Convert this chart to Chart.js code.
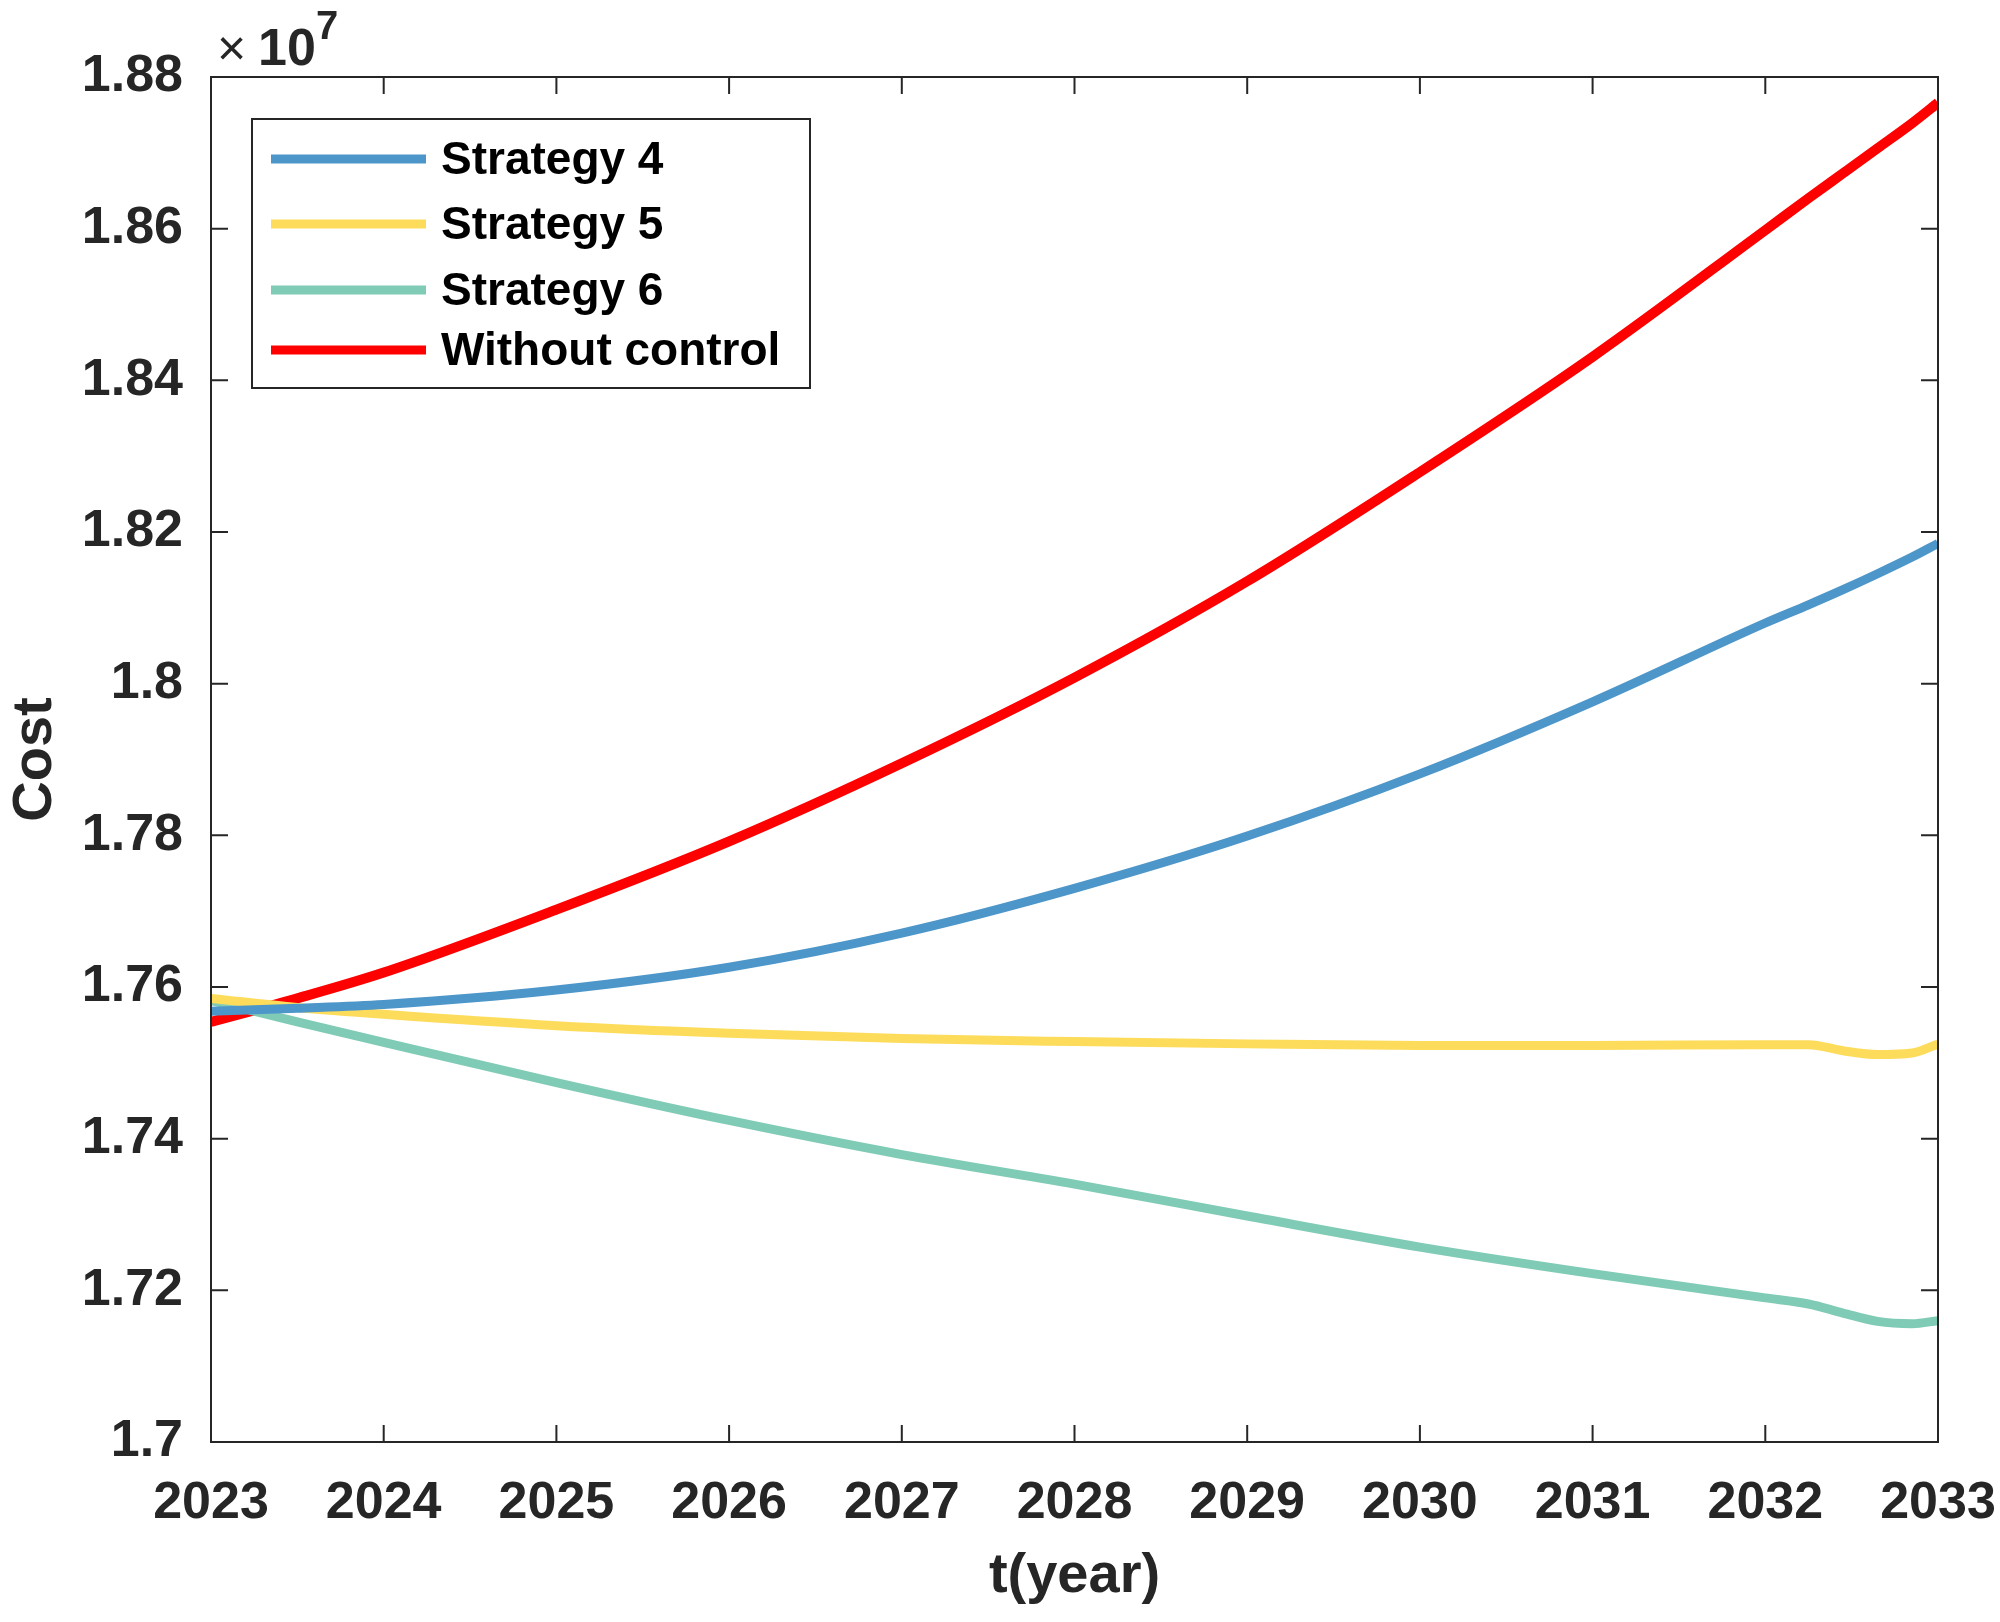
<!DOCTYPE html>
<html>
<head>
<meta charset="utf-8">
<script src="https://cdn.jsdelivr.net/npm/chart.js@4"></script>
<style>
  html, body { margin: 0; padding: 0; background: #fff; }
  #wrap { width: 2000px; height: 1622px; }
</style>
</head>
<body>
<div id="wrap"><canvas id="costChart" width="2000" height="1622"></canvas></div>
<script>
// time axis (years), extra points near the end for the dip
const years = [2023, 2023.5, 2024, 2025, 2026, 2027, 2028, 2029, 2030, 2031, 2032, 2032.25, 2032.45, 2032.65, 2032.85, 2033];

// cost values, x 1e7
const strategy4 = [1.7568, 1.7572, 1.7577, 1.7596, 1.7626, 1.7671, 1.7730, 1.7799, 1.7881, 1.7976, 1.8080, 1.8104, 1.8124, 1.8145, 1.8167, 1.8185];
const strategy5 = [1.7585, 1.7573, 1.7564, 1.7549, 1.7539, 1.7532, 1.7528, 1.7525, 1.7523, 1.7523, 1.7524, 1.7524, 1.7516, 1.7511, 1.7513, 1.7525];
const strategy6 = [1.7582, 1.7554, 1.7527, 1.7474, 1.7424, 1.7379, 1.7340, 1.7298, 1.7257, 1.7222, 1.7190, 1.7182, 1.7170, 1.7159, 1.7156, 1.7160];
const noControl = [1.7554, 1.7585, 1.7619, 1.7702, 1.7792, 1.7895, 1.8008, 1.8135, 1.8279, 1.8431, 1.8598, 1.8640, 1.8673, 1.8706, 1.8739, 1.8766];

const seriesNames = ["Strategy 4", "Strategy 5", "Strategy 6", "Without control"];
const seriesColors = ["#4d96c9", "#fddc5c", "#80cbb5", "#ff0000"];

const yTicks = [1.70, 1.72, 1.74, 1.76, 1.78, 1.80, 1.82, 1.84, 1.86, 1.88];
const xTicks = [2023, 2024, 2025, 2026, 2027, 2028, 2029, 2030, 2031, 2032, 2033];

const textColor = "#262626";
const fontFam = "'Liberation Sans', Arial, sans-serif";

const toPoints = vals => vals.map((v, i) => ({ x: years[i], y: v * 1e7 }));

// box + inward ticks, MATLAB style
const axesBox = {
    id: "axesBox",
    afterDatasetsDraw(chart) {
        const { ctx, chartArea: a, scales } = chart;
        ctx.save();
        ctx.strokeStyle = "#262626";
        ctx.lineWidth = 2;
        ctx.strokeRect(a.left, a.top, a.right - a.left, a.bottom - a.top);
        const len = 17;
        ctx.beginPath();
        xTicks.forEach(t => {
            const px = scales.x.getPixelForValue(t);
            ctx.moveTo(px, a.bottom); ctx.lineTo(px, a.bottom - len);
            ctx.moveTo(px, a.top); ctx.lineTo(px, a.top + len);
        });
        yTicks.forEach(t => {
            const py = scales.y.getPixelForValue(t * 1e7);
            ctx.moveTo(a.left, py); ctx.lineTo(a.left + len, py);
            ctx.moveTo(a.right, py); ctx.lineTo(a.right - len, py);
        });
        ctx.stroke();

        // exponent label
        ctx.fillStyle = textColor;
        ctx.textBaseline = "alphabetic";
        ctx.textAlign = "left";
        ctx.font = "50px " + fontFam;
        ctx.fillText("\u00d7", a.left + 6, a.top - 12);
        ctx.font = "bold 52px " + fontFam;
        ctx.fillText("10", a.left + 47, a.top - 12);
        ctx.font = "bold 40px " + fontFam;
        ctx.fillText("7", a.left + 105, a.top - 38);
        ctx.restore();
    }
};

// legend box inside the plot
const boxLegend = {
    id: "boxLegend",
    afterDraw(chart) {
        const { ctx, chartArea: a } = chart;
        const x0 = a.left + 41, y0 = a.top + 42, w = 558, h = 269;
        ctx.save();
        ctx.fillStyle = "#fff";
        ctx.fillRect(x0, y0, w, h);
        ctx.strokeStyle = "#262626";
        ctx.lineWidth = 2;
        ctx.strokeRect(x0, y0, w, h);
        const rows = [40, 105, 171, 231];
        ctx.font = "bold 46px " + fontFam;
        ctx.textBaseline = "middle";
        chart.data.datasets.forEach((ds, i) => {
            const y = y0 + rows[i];
            ctx.strokeStyle = ds.borderColor;
            ctx.lineWidth = 9;
            ctx.beginPath();
            ctx.moveTo(x0 + 19, y);
            ctx.lineTo(x0 + 174, y);
            ctx.stroke();
            ctx.fillStyle = "#000";
            ctx.fillText(ds.label, x0 + 189, y + 2);
        });
        ctx.restore();
    }
};

const allSeries = [strategy4, strategy5, strategy6, noControl];

new Chart(document.getElementById("costChart"), {
    type: "line",
    data: {
        datasets: allSeries.map((vals, i) => ({
            label: seriesNames[i],
            data: toPoints(vals),
            borderColor: seriesColors[i],
            backgroundColor: seriesColors[i],
            borderWidth: i === 3 ? 10 : 9,
            pointRadius: 0,
            cubicInterpolationMode: "monotone",
            fill: false
        }))
    },
    options: {
        responsive: false,
        animation: false,
        devicePixelRatio: 1,
        layout: { padding: { top: 77, right: 62, left: 0, bottom: 0 } },
        plugins: {
            legend: { display: false },
            tooltip: { enabled: false }
        },
        scales: {
            x: {
                type: "linear",
                min: 2023,
                max: 2033,
                afterBuildTicks: s => { s.ticks = xTicks.map(v => ({ value: v })); },
                afterFit: s => { s.height = 180; s.paddingLeft = 0; s.paddingRight = 0; },
                grid: { display: false, drawTicks: false },
                border: { display: false },
                ticks: {
                    color: textColor,
                    font: { family: fontFam, size: 52, weight: "bold" },
                    padding: 30,
                    maxRotation: 0,
                    callback: v => String(v)
                },
                title: {
                    display: true,
                    text: "t(year)",
                    color: textColor,
                    font: { family: fontFam, size: 56, weight: "bold" },
                    padding: { top: 0, bottom: 12 }
                }
            },
            y: {
                min: 1.70e7,
                max: 1.88e7,
                afterBuildTicks: s => { s.ticks = yTicks.map(v => ({ value: v * 1e7 })); },
                afterFit: s => { s.width = 211; s.paddingTop = 0; s.paddingBottom = 0; },
                grid: { display: false, drawTicks: false },
                border: { display: false },
                ticks: {
                    color: textColor,
                    font: { family: fontFam, size: 52, weight: "bold" },
                    padding: 28,
                    callback: v => String(parseFloat((v / 1e7).toFixed(2)))
                },
                title: {
                    display: true,
                    text: "Cost",
                    color: textColor,
                    font: { family: fontFam, size: 56, weight: "bold" },
                    padding: { top: 2, bottom: 0 }
                }
            }
        }
    },
    plugins: [axesBox, boxLegend]
});
</script>
</body>
</html>
